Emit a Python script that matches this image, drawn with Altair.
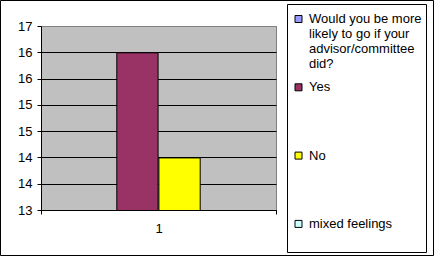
import altair as alt
import pandas as pd

# ---- data ----
category = "1"
series = [
    "\u00a0Would you be more|likely to go if your|advisor/committee|did?",
    "Yes",
    "No",
    "mixed feelings",
]
values = [None, 16, 14, 13]
colors = ["#9999FF", "#993366", "#FFFF00", "#CCFFFF"]
axis_min = 13
axis_max = 16.5
tick_values = [13, 13.5, 14, 14.5, 15, 15.5, 16, 16.5]

FONT = "Liberation Sans"

df = pd.DataFrame({
    "category": [category] * len(series),
    "series": series,
    "value": values,
    "base": [axis_min] * len(series),
})

bars = alt.Chart(df).mark_bar(
    stroke="black", strokeWidth=1, clip=True, yOffset=0.5, y2Offset=0.5
).encode(
    x=alt.X(
        "category:N",
        title=None,
        scale=alt.Scale(paddingInner=0, paddingOuter=0),
        axis=alt.Axis(
            labelAngle=0, labelFont=FONT, labelFontSize=13, labelColor="black",
            domainColor="black", tickColor="black", tickSize=4, tickBand="extent",
            labelPadding=8, grid=False,
        ),
    ),
    xOffset=alt.XOffset("series:N", sort=series, scale=alt.Scale(paddingInner=0.02, paddingOuter=0.8)),
    y=alt.Y(
        "value:Q",
        title=None,
        scale=alt.Scale(domain=[axis_min, axis_max], zero=False, nice=False),
        axis=alt.Axis(
            values=tick_values, format=".0f", labelFont=FONT, labelFontSize=13,
            labelColor="black", domainColor="black", tickColor="black", tickSize=4,
            labelPadding=5, grid=True,
            gridColor={"condition": {"test": f"datum.value >= {axis_max}", "value": "#808080"}, "value": "black"},
            gridWidth=1, gridOpacity=1,
        ),
    ),
    y2="base:Q",
    color=alt.Color(
        "series:N",
        sort=series,
        scale=alt.Scale(domain=series, range=colors),
        legend=alt.Legend(
            title=None, orient="none", legendX=251, legendY=-13.5, padding=0,
            symbolType="square", symbolSize=49, symbolStrokeColor="black",
            symbolStrokeWidth=1, labelFont=FONT, labelFontSize=13, labelColor="black",
            labelOffset=4, labelLimit=300, rowPadding=9.3,
            labelExpr="slice(split(datum.label + '|\u00a0|\u00a0|\u00a0', '|'), 0, 4)",
        ),
    ),
)

frame_df = pd.DataFrame({"k": [0]})
outer = alt.Chart(frame_df).mark_rect(filled=False, stroke="black", strokeWidth=1).encode(
    x=alt.value(-40.5), x2=alt.value(392.5), y=alt.value(-25.5), y2=alt.value(229.5)
)
legend_box = alt.Chart(frame_df).mark_rect(filled=False, stroke="black", strokeWidth=1).encode(
    x=alt.value(246.5), x2=alt.value(385.5), y=alt.value(-21.5), y2=alt.value(226.5)
)

chart = alt.layer(bars, outer, legend_box).properties(
    width=235,
    height=184,
    autosize=alt.AutoSizeParams(type="none"),
    padding={"left": 41, "top": 26, "right": 162, "bottom": 48},
    background="white",
).configure_view(
    fill="#C0C0C0", stroke="#808080", strokeWidth=1
)

chart.save("out.html", embed_options={"renderer": "svg", "actions": False})
